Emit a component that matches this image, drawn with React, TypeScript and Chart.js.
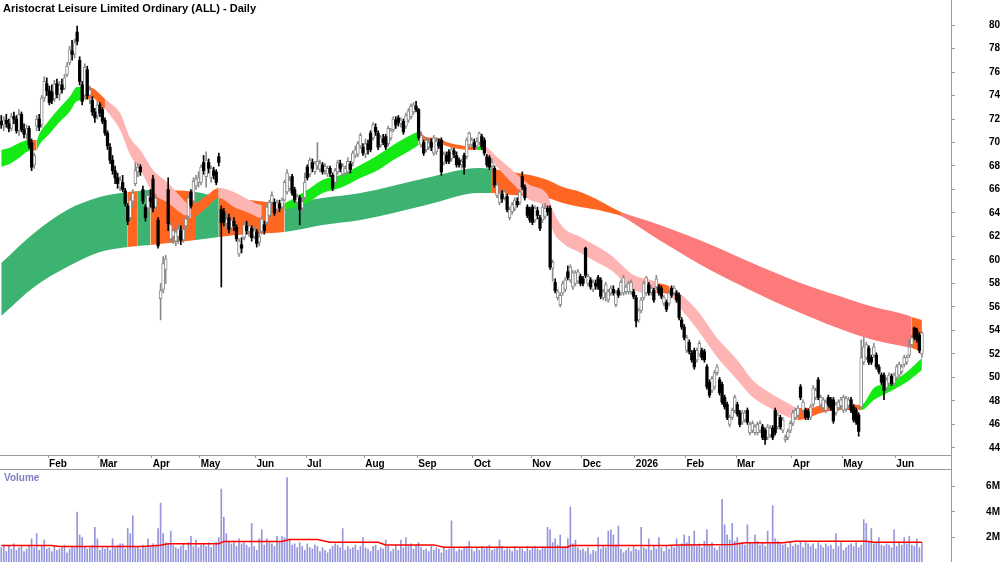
import React, { useEffect, useRef } from "react";
import { Chart, registerables } from "chart.js";

Chart.register(...registerables);

const FONT = '"Liberation Sans", Arial, Helvetica, sans-serif';
const TITLE = "Aristocrat Leisure Limited Ordinary (ALL) - Daily";

// x axis: trading-day index; month ticks at first trading day of month
const monthTickIdx = [19, 39, 60, 79, 101, 121, 144, 165, 187, 210, 230, 251, 271, 291, 313, 333, 354];
const monthLabels = ["Feb", "Mar", "Apr", "May", "Jun", "Jul", "Aug", "Sep", "Oct", "Nov", "Dec", "2026", "Feb", "Mar", "Apr", "May", "Jun"];
const priceTicks = [44, 46, 48, 50, 52, 54, 56, 58, 60, 62, 64, 66, 68, 70, 72, 74, 76, 78, 80];
const volumeTicks = [2, 4, 6];

const opens = [
  71.8,71.5,71.9,71.6,71.2,72.2,72.0,71.0,72.4,71.1,
  70.7,71.2,70.0,68.1,71.4,72.0,71.5,73.8,75.0,74.4,
  74.3,73.7,75.0,74.1,74.9,74.6,75.8,76.8,77.8,77.5,
  79.4,77.0,74.9,74.0,76.2,74.0,73.6,72.6,72.3,73.2,
  72.8,71.9,70.8,69.6,68.5,67.6,67.0,66.2,66.6,65.9,
  64.6,63.6,65.0,66.5,67.5,67.9,66.0,64.5,64.4,65.3,
  66.9,64.5,63.4,56.7,57.5,59.2,66.0,61.8,62.0,61.6,
  62.0,62.5,61.7,62.9,63.7,65.8,65.0,66.3,66.6,66.6,
  68.3,67.1,68.3,67.0,67.6,67.5,68.8,64.3,64.1,63.1,
  63.6,62.7,63.3,62.8,60.5,61.3,61.9,62.9,62.4,62.7,
  62.0,62.4,61.5,62.4,63.0,63.2,63.8,64.9,64.9,64.3,
  64.8,64.5,65.1,65.8,66.1,67.1,66.0,64.9,65.3,64.4,
  65.3,67.9,67.3,68.3,67.5,68.0,67.7,68.1,67.6,67.3,
  67.8,67.2,66.6,67.5,68.2,67.3,67.4,67.5,68.2,68.3,
  68.9,69.0,69.7,69.6,69.0,69.9,70.8,70.4,71.3,70.8,
  69.8,70.3,70.5,69.9,70.4,71.1,71.9,72.1,71.6,71.8,
  71.4,71.9,72.2,72.6,73.1,72.8,69.8,70.0,69.4,69.6,
  70.0,69.1,69.2,70.0,70.2,68.3,68.9,69.2,68.6,69.3,
  68.9,68.5,68.1,68.9,68.8,69.8,69.8,70.0,69.7,70.0,
  70.5,70.2,68.8,68.7,68.0,67.8,65.5,64.9,65.6,65.3,
  65.4,63.6,64.1,64.4,65.0,64.9,67.1,66.2,64.5,64.3,
  64.5,63.4,64.2,63.6,63.4,63.7,64.4,64.4,59.3,58.1,
  56.8,56.2,57.2,57.5,59.0,58.3,57.7,58.0,58.2,58.6,
  58.4,61.0,58.0,58.3,57.5,58.0,58.5,58.3,56.8,57.2,
  56.6,57.2,57.5,56.2,57.4,57.2,57.2,57.3,57.3,57.3,
  57.3,56.8,54.9,55.7,56.8,57.2,57.9,57.2,57.4,57.7,
  57.7,57.6,56.3,56.4,56.3,57.6,57.2,57.2,57.0,54.9,
  54.3,52.3,53.0,52.1,52.3,51.5,52.0,52.3,52.2,50.9,
  49.6,48.9,49.2,50.4,49.8,49.4,48.3,47.7,46.0,46.6,
  47.2,47.7,47.0,46.2,46.4,47.2,45.3,45.5,45.3,45.3,
  45.5,45.8,45.5,44.9,45.1,45.7,47.2,45.8,46.6,45.5,
  44.7,44.9,45.5,46.1,46.6,46.8,49.2,47.2,47.2,47.1,
  46.6,47.7,48.3,49.8,47.7,47.4,47.2,48.3,48.1,48.1,
  47.0,47.4,47.6,47.2,47.3,47.6,48.1,47.5,47.2,46.8,
  47.5,51.3,51.7,52.5,51.7,51.9,51.9,50.9,50.2,50.2,
  49.1,49.5,50.1,49.5,50.0,50.2,50.5,51.1,51.3,51.9,
  52.8,54.2,54.0,53.6,52.0,
];
const highs = [
  72.3,72.2,72.4,72.0,72.5,72.6,72.3,72.8,72.6,71.6,
  71.5,71.4,70.3,69.1,72.3,72.4,74.0,75.6,75.5,74.8,
  74.9,75.3,75.4,75.2,75.4,75.8,76.8,78.2,78.7,78.8,
  79.9,77.3,75.2,76.7,76.5,74.8,73.9,72.9,73.5,73.4,
  73.0,72.1,71.0,69.9,68.9,68.0,67.4,67.1,67.2,66.1,
  64.8,65.4,66.0,68.3,68.2,68.1,66.3,64.7,65.8,66.0,
  67.2,65.6,63.6,58.0,60.3,60.4,67.0,63.2,62.8,62.7,
  63.0,62.9,62.9,63.8,65.6,66.0,67.0,67.2,67.5,68.1,
  68.9,69.2,68.6,68.0,67.9,67.7,69.1,64.6,64.4,63.9,
  63.9,63.7,63.6,63.0,61.8,61.9,63.2,63.3,63.1,62.9,
  62.8,62.6,62.3,63.7,63.3,64.7,65.1,65.8,65.2,65.1,
  65.1,65.3,66.8,67.7,67.1,67.3,66.2,65.6,65.5,65.3,
  67.4,68.1,68.7,68.6,68.4,70.0,68.5,68.3,68.2,68.0,
  68.0,67.4,67.8,68.5,68.5,68.2,68.0,68.7,68.4,69.3,
  69.7,70.1,70.8,69.9,70.3,70.2,71.0,71.7,71.6,71.0,
  70.6,70.7,70.7,71.4,71.2,72.2,72.2,72.3,72.1,72.0,
  72.5,72.9,73.3,73.4,73.5,72.9,70.9,70.2,70.4,70.3,
  70.3,70.6,70.4,70.3,70.4,69.2,69.2,69.4,69.6,69.5,
  69.2,68.7,68.6,69.1,70.4,70.9,70.4,70.3,70.4,70.9,
  70.7,70.4,69.0,68.9,68.6,68.0,66.6,65.9,65.9,66.0,
  65.6,64.5,64.9,65.3,65.3,66.0,67.5,66.4,64.7,64.5,
  64.7,64.6,64.5,63.8,64.7,64.8,64.6,64.6,60.0,58.4,
  57.5,57.2,58.2,58.5,59.5,59.6,59.1,59.1,59.2,58.8,
  58.6,61.1,58.8,58.5,58.3,58.3,58.7,58.5,57.5,58.1,
  57.5,57.8,57.8,57.4,57.6,58.3,58.7,57.9,58.2,58.3,
  57.5,57.0,55.9,56.8,58.2,58.6,58.1,57.8,57.6,58.7,
  57.9,57.8,57.0,56.6,57.4,57.8,57.8,57.4,57.2,55.1,
  54.5,53.6,53.2,52.3,52.5,52.5,53.1,52.5,52.4,51.1,
  49.8,50.1,50.6,51.1,50.0,49.6,48.5,47.9,46.8,47.4,
  48.5,47.9,47.2,47.2,47.2,47.4,46.2,46.3,46.0,46.2,
  46.3,46.0,45.7,46.0,45.9,45.9,47.4,47.0,46.8,46.6,
  45.1,45.6,46.3,47.2,47.4,47.6,49.4,48.1,47.4,47.3,
  47.7,49.3,49.1,50.0,48.5,48.3,48.1,48.5,48.3,48.3,
  47.9,48.1,48.3,48.5,48.4,48.3,48.3,47.7,47.4,47.0,
  53.2,53.4,53.0,52.7,51.9,52.9,52.1,51.1,50.4,50.4,
  50.0,50.4,50.3,50.4,51.1,51.3,51.1,51.9,51.9,53.2,
  53.6,54.3,54.2,53.8,53.9,
];
const lows = [
  71.2,71.0,71.3,70.9,71.0,71.6,70.8,70.6,70.9,70.4,
  70.3,69.5,67.6,67.8,71.0,71.0,71.3,73.5,74.0,73.2,
  73.3,73.5,73.8,73.6,74.2,74.5,75.6,76.6,77.0,77.2,
  78.3,74.9,73.2,73.8,73.7,73.3,72.3,71.7,72.0,72.2,
  71.6,70.6,69.4,68.2,67.3,66.5,66.1,65.9,65.8,64.6,
  63.0,63.4,64.5,66.3,67.1,67.2,64.8,63.3,64.2,64.5,
  64.1,64.2,61.0,54.9,57.2,58.0,62.5,61.5,61.4,61.2,
  61.4,61.3,61.5,62.6,63.5,64.4,64.8,66.0,66.2,66.4,
  67.3,66.2,67.4,66.6,66.9,66.4,68.0,57.7,62.9,62.6,
  62.3,62.4,62.5,61.6,60.3,60.6,61.7,62.2,62.0,61.6,
  61.8,61.1,61.2,62.2,62.2,63.0,63.6,64.7,63.8,64.0,
  64.1,64.3,65.0,65.6,65.9,65.5,64.9,64.7,63.0,64.1,
  65.1,66.8,67.1,67.5,67.3,67.7,67.5,67.3,67.3,67.1,
  67.1,65.9,66.4,67.3,67.5,67.1,67.2,67.3,67.4,68.0,
  68.7,68.8,69.5,68.9,68.7,69.0,69.2,70.2,70.6,69.4,
  69.6,69.8,69.4,69.7,70.2,70.9,71.2,71.4,71.3,70.7,
  71.2,71.7,72.0,72.4,72.6,70.2,69.6,68.9,69.2,69.4,
  69.3,68.9,69.0,69.5,67.2,68.1,68.2,68.2,68.4,68.7,
  67.9,67.9,67.8,67.3,68.6,69.6,69.6,69.4,69.5,69.8,
  69.4,68.9,67.9,67.7,67.6,66.2,65.3,64.7,64.9,65.1,
  64.1,63.4,63.9,64.2,64.5,64.7,66.0,65.1,63.6,63.2,
  63.0,63.2,63.5,62.5,63.2,63.5,63.8,59.2,58.2,57.2,
  56.6,56.0,57.0,57.3,58.3,58.1,57.5,57.8,58.0,57.8,
  57.8,58.5,57.8,57.5,57.3,57.5,57.5,56.7,56.6,56.5,
  56.4,57.0,57.0,56.0,56.8,57.0,57.0,57.1,57.1,57.1,
  56.7,54.3,54.7,55.5,56.6,57.0,57.0,57.0,56.4,57.5,
  57.0,56.7,56.1,55.6,56.1,56.8,57.0,56.4,54.9,54.1,
  53.2,52.1,52.0,51.3,50.7,51.3,51.8,51.5,51.3,49.0,
  48.3,48.7,49.0,50.2,48.5,47.7,47.3,46.4,45.8,46.4,
  47.0,46.7,45.8,46.0,46.2,46.0,45.1,45.3,45.1,45.1,
  45.3,44.7,44.3,44.7,44.9,44.7,45.1,45.6,45.6,45.3,
  44.5,44.7,45.3,45.9,46.4,46.6,48.1,47.0,46.4,46.4,
  46.4,47.5,48.1,48.1,47.5,47.2,47.0,47.5,47.2,46.1,
  46.8,47.2,47.4,47.0,47.1,47.4,47.0,46.2,46.0,45.0,
  47.3,51.1,51.5,51.1,51.1,51.7,50.7,50.3,49.4,48.1,
  48.9,49.3,49.3,49.3,49.8,50.0,50.3,50.9,51.1,51.7,
  52.6,53.2,53.0,52.1,51.7,
];
const closes = [
  71.5,71.9,71.6,71.2,72.2,72.0,71.0,72.4,71.1,70.7,
  71.2,69.8,67.9,68.9,72.0,71.3,73.8,75.2,74.4,73.4,
  73.6,75.0,74.1,74.9,74.5,75.5,76.5,77.9,77.5,78.5,
  78.6,75.2,73.5,76.4,74.0,74.5,72.6,72.1,73.2,72.5,
  71.8,70.8,69.7,68.5,67.6,67.0,66.5,66.8,66.0,64.8,
  63.3,65.1,65.7,67.6,67.9,67.5,65.0,63.6,65.5,65.0,
  64.4,65.3,61.2,57.4,59.7,60.1,63.1,63.0,62.5,62.4,
  62.6,61.7,62.6,63.5,65.3,64.6,66.7,66.9,67.0,67.9,
  67.6,68.5,67.8,67.8,67.2,66.6,68.3,63.2,63.2,63.5,
  62.6,63.4,62.9,61.8,61.6,61.0,63.0,62.5,62.9,61.9,
  62.5,61.4,62.0,63.5,62.5,64.5,64.9,65.5,64.0,64.9,
  64.4,65.1,66.6,67.4,66.8,65.7,65.1,65.4,64.3,65.0,
  66.6,67.0,68.5,67.8,68.2,68.4,68.2,67.5,68.0,67.8,
  67.4,66.1,67.6,68.3,67.8,68.0,67.8,68.4,67.7,69.1,
  69.4,69.9,70.6,69.1,69.9,69.4,69.4,71.5,70.9,69.6,
  70.4,70.0,69.6,71.2,71.0,72.0,71.5,71.7,71.9,70.9,
  72.3,72.7,73.1,73.2,72.8,70.4,70.6,69.1,70.2,70.0,
  69.6,70.4,70.1,69.7,67.5,69.0,68.4,68.4,69.4,69.0,
  68.1,68.1,68.4,67.9,70.2,70.8,70.2,69.6,70.1,70.8,
  69.6,69.1,68.1,67.9,68.3,66.4,66.4,65.7,65.2,65.8,
  64.3,64.3,64.7,65.1,64.7,65.8,66.2,65.3,63.8,63.4,
  63.2,64.4,63.8,62.7,64.5,64.4,64.1,59.4,59.8,57.4,
  57.3,57.0,58.0,58.3,58.5,59.4,58.9,58.9,59.0,58.0,
  58.0,58.7,58.6,57.7,58.1,57.8,57.7,56.9,57.3,57.9,
  57.3,57.6,57.2,57.2,57.0,58.1,58.5,57.7,58.0,58.1,
  56.9,54.8,55.7,56.6,58.0,58.5,57.2,57.6,56.6,58.4,
  57.2,56.9,56.8,55.8,57.2,57.0,57.6,56.6,55.1,54.3,
  53.4,53.4,52.2,51.5,50.9,52.3,52.9,51.7,51.5,49.2,
  48.5,49.9,50.4,50.9,48.7,47.9,47.5,46.6,46.6,47.2,
  48.3,46.9,46.0,47.0,47.0,46.2,46.0,46.1,45.8,46.0,
  46.1,44.9,44.7,45.8,45.7,44.9,45.3,46.8,45.8,46.4,
  44.9,45.4,46.1,47.0,47.2,47.4,48.3,47.9,46.6,46.6,
  47.5,49.1,48.9,48.3,48.3,48.1,47.9,47.7,47.4,46.3,
  47.7,47.9,48.1,48.3,48.2,48.1,47.2,46.4,46.2,45.4,
  51.7,52.6,52.8,51.3,51.3,52.6,50.9,50.5,49.6,48.9,
  49.8,50.2,49.5,50.2,50.9,51.1,50.9,51.7,51.7,52.6,
  53.4,53.4,53.2,52.3,53.8,
];

// volume in millions of shares
const volumes = [
  1.2,1.4,0.9,1.3,1.1,1.5,1.0,1.2,1.3,0.9,
  1.1,1.4,1.9,1.2,2.3,1.0,1.3,1.8,1.1,1.2,
  0.9,1.3,1.0,1.1,1.2,1.4,0.8,1.1,1.3,1.2,
  4.0,2.2,2.0,1.3,1.1,1.2,1.4,2.8,1.9,1.0,
  1.2,1.1,1.3,1.0,1.9,1.2,1.4,1.5,1.5,1.1,
  2.7,2.3,3.7,1.2,1.3,1.1,1.4,1.2,1.9,1.3,
  1.5,1.4,2.7,4.7,2.3,1.6,1.5,2.5,1.4,1.2,
  1.1,1.3,1.5,1.0,1.6,2.1,1.3,1.8,1.2,1.4,
  1.5,1.3,1.6,1.2,1.4,1.6,2.0,5.8,3.6,2.3,
  1.7,1.5,1.6,1.3,1.9,1.5,1.6,1.4,1.2,3.1,
  1.3,1.0,1.9,2.6,1.4,1.9,1.6,1.5,1.3,2.1,
  1.7,2.1,2.0,6.7,1.9,1.4,1.5,1.2,1.6,1.3,
  1.0,1.5,1.2,1.1,1.4,1.3,0.9,1.2,1.0,0.8,
  1.1,1.3,1.5,1.4,1.2,2.7,1.0,1.3,1.1,1.2,
  1.4,1.0,1.3,2.0,1.2,1.1,0.9,1.3,1.4,1.0,
  1.2,1.1,1.8,1.3,0.9,1.1,1.4,1.0,1.8,1.2,
  2.0,1.3,1.5,1.1,1.4,1.6,1.2,1.0,1.1,0.9,
  1.3,1.0,1.2,1.1,0.8,1.2,1.0,1.1,3.3,1.2,
  0.9,1.1,1.0,1.2,1.3,1.7,1.1,0.9,1.2,1.0,
  1.3,1.1,1.2,1.4,1.0,1.1,1.2,1.8,1.3,1.0,
  1.2,1.1,0.9,1.3,1.0,1.2,1.1,0.9,1.3,1.0,
  1.2,1.3,1.1,1.0,1.3,1.2,2.8,2.6,1.6,1.9,
  1.4,2.2,1.2,1.3,1.9,4.4,1.5,1.8,1.2,1.0,
  1.1,0.9,1.2,0.7,1.0,0.9,2.0,1.1,1.3,1.2,
  2.5,2.6,2.2,1.4,2.9,1.1,0.8,1.0,1.2,0.9,
  1.3,1.1,1.0,2.8,1.2,1.1,1.9,1.0,1.3,1.1,
  2.0,1.2,0.9,1.3,1.1,1.4,1.2,1.9,1.3,1.5,
  2.2,1.6,2.1,1.4,2.5,1.3,1.5,1.2,1.7,2.6,
  1.4,1.6,1.2,1.0,1.3,5.0,3.0,2.2,1.8,3.1,
  1.7,2.0,1.5,1.6,1.4,3.0,1.6,1.5,2.2,1.7,
  1.4,1.6,1.3,2.5,1.5,4.5,1.9,1.7,1.6,1.4,
  1.5,1.2,1.6,1.3,1.5,1.4,1.7,1.2,1.6,1.5,
  1.3,1.5,1.1,1.6,1.4,1.2,1.5,1.3,1.4,1.1,
  2.3,1.3,1.6,1.0,1.2,1.4,1.5,1.3,1.6,1.2,
  1.4,3.4,3.1,1.6,2.7,1.5,1.6,2.0,1.4,1.3,
  1.5,1.4,1.2,2.6,1.3,1.6,1.4,2.0,1.5,2.1,
  1.4,1.3,1.9,1.2,1.6,
];

// volume moving average (millions), read at these day indices
const volAvgIdx = [0,20,23,56,63,66,86,88,111,114,125,130,149,152,171,175,224,225,263,268,289,294,309,314,342,345,364];
const volAvg = [1.37,1.37,1.30,1.30,1.40,1.50,1.50,1.69,1.69,1.84,1.84,1.63,1.63,1.42,1.42,1.24,1.24,1.37,1.37,1.42,1.45,1.58,1.58,1.71,1.71,1.63,1.63];

// short-term moving-average band: day index, upper, lower, colour code of following segment
const shortIdx = [0,4,7,11,14,15,19,23,27,30,33,36,39,41,43,47,51,55,60,66,71,75,81,86,92,98,103,108,112,121,127,134,142,149,155,162,165,168,173,176,181,188,190,196,202,209,216,218,222,229,236,241,250,257,260,264,270,276,283,291,297,304,311,315,320,324,332,340,345,351,358,364];
const shortTop = [69.36,69.62,69.96,70.21,70.21,70.72,71.91,72.94,73.87,74.72,74.72,74.64,74.13,73.70,73.36,72.51,70.38,69.36,67.66,66.55,65.36,64.68,65.45,66.13,65.79,65.11,64.68,64.68,64.85,65.96,66.81,67.23,68.09,68.94,69.79,70.64,70.89,70.47,70.38,70.04,69.79,69.62,69.79,68.77,67.66,66.38,65.53,64.26,62.81,61.96,61.11,60.43,58.72,58.30,58.04,57.79,56.85,55.49,53.36,51.49,49.79,48.68,47.83,47.40,47.40,47.66,47.74,47.66,49.11,49.53,50.47,51.66];
const shortBot = [67.92,68.26,68.68,69.28,69.36,69.79,70.72,71.74,72.60,73.53,73.62,73.79,73.28,72.85,72.34,71.06,68.94,67.66,65.70,64.85,64.00,63.57,64.43,65.28,64.51,64.00,63.57,63.83,64.26,64.85,65.70,66.13,66.98,67.66,68.51,69.36,69.79,70.04,69.96,69.70,69.45,69.36,69.36,67.92,66.55,65.11,64.26,62.55,61.45,60.60,59.74,59.15,57.45,57.19,57.19,57.02,55.49,53.87,51.74,49.79,48.34,47.40,46.64,46.38,46.64,46.98,47.23,47.23,48.09,48.77,49.62,50.64];
const shortCol = "gggogggggg" + "oooppppppp" + "poopppoogg" + "ggggggoooo" + "ogpppppppp" + "ppppoppppp" + "pppooooggggg";

// long-term moving-average band
const longIdx = [0,13,26,39,50,54,59,77,86,98,112,127,142,168,189,194,202,209,216,222,229,236,241,245,257,276,296,316,336,345,358,360,364];
const longTop = [59.74,62.30,64.26,65.36,65.79,65.87,65.96,65.79,65.36,65.11,64.85,65.28,65.70,66.98,67.83,67.75,67.49,67.23,66.81,66.21,65.79,65.11,64.51,64.09,63.23,61.70,59.83,58.04,56.60,56.00,55.32,55.15,54.89];
const longBot = [55.23,57.70,59.40,60.68,61.11,61.19,61.28,61.70,61.96,62.21,62.38,62.98,63.40,64.68,65.70,65.70,65.53,65.45,65.28,64.85,64.51,64.26,64.00,63.74,62.13,59.66,57.45,55.49,53.79,53.19,52.60,52.51,52.17];
const longCol = "ggggogogoogggggoooooooorrrrrrrroo";

const SHORT_COLORS: Record<string, string> = { g: "#14ea14", o: "#ff6622", p: "#ffb4b4" };
const LONG_COLORS: Record<string, string> = { g: "#3cb371", o: "#ff6622", r: "#fd7a7a" };

const X_MIN = 0;
const X_MAX = 376;
const AXIS_W = 49;
const AXIS_COLOR = "#9a9a9a";

function bandDatasets(idx: number[], top: number[], bot: number[], cols: string, colorMap: Record<string, string>, order: number) {
  return [
    {
      type: "line",
      data: idx.map((x, k) => ({ x: x + 0.5, y: top[k] })),
      borderColor: "transparent",
      borderWidth: 0,
      pointRadius: 0,
      fill: "+1",
      cubicInterpolationMode: "monotone",
      backgroundColor: colorMap[cols[0]],
      segment: { backgroundColor: (c: any) => colorMap[cols[c.p0DataIndex]] },
      order,
    },
    {
      type: "line",
      data: idx.map((x, k) => ({ x: x + 0.5, y: bot[k] })),
      borderColor: "transparent",
      borderWidth: 0,
      pointRadius: 0,
      fill: false,
      cubicInterpolationMode: "monotone",
      order,
    },
  ];
}

export default function App() {
  const priceRef = useRef<HTMLCanvasElement>(null);
  const volRef = useRef<HTMLCanvasElement>(null);

  useEffect(() => {
    const days = closes.map((_, i) => i);
    const isUp = (i: number) => closes[i] >= opens[i];
    const tickFont = { family: FONT, size: 10, weight: "bold" as const };

    const extendAxis = {
      id: "extendAxis",
      afterDraw(chart: any) {
        const { ctx, chartArea } = chart;
        const x = Math.round(chartArea.right) + 0.5;
        ctx.save();
        ctx.strokeStyle = AXIS_COLOR;
        ctx.lineWidth = 1;
        ctx.beginPath();
        ctx.moveTo(x, chartArea.bottom);
        ctx.lineTo(x, chart.height);
        ctx.stroke();
        ctx.restore();
      },
    };

    const zeroPad = (s: any) => {
      s.paddingTop = 0;
      s.paddingBottom = 0;
      s.paddingLeft = 0;
      s.paddingRight = 0;
    };

    const price = new Chart(priceRef.current as HTMLCanvasElement, {
      type: "bar",
      data: {
        datasets: [
          ...bandDatasets(longIdx, longTop, longBot, longCol, LONG_COLORS, 5),
          ...bandDatasets(shortIdx, shortTop, shortBot, shortCol, SHORT_COLORS, 4),
          {
            type: "bar",
            data: days.map((i) => ({ x: i + 0.5, y: [lows[i], highs[i]] })),
            backgroundColor: (c: any) => (isUp(c.dataIndex) ? "#8a8a8a" : "#000000"),
            barThickness: 1,
            grouped: false,
            order: 3,
          },
          {
            type: "bar",
            data: days.filter((i) => isUp(i)).map((i) => ({ x: i + 0.5, y: [opens[i], closes[i]] })),
            backgroundColor: "#ffffff",
            borderColor: "#8a8a8a",
            borderWidth: 1,
            borderSkipped: false,
            barThickness: 3,
            minBarLength: 2,
            grouped: false,
            order: 2,
          },
          {
            type: "bar",
            data: days.filter((i) => !isUp(i)).map((i) => ({ x: i + 0.5, y: [opens[i], closes[i]] })),
            backgroundColor: "#000000",
            borderWidth: 0,
            barThickness: 2.6,
            minBarLength: 1,
            grouped: false,
            order: 1,
          },
        ] as any,
      },
      options: {
        animation: false,
        responsive: false,
        maintainAspectRatio: false,
        devicePixelRatio: 1,
        events: [],
        layout: { padding: 0 },
        plugins: { legend: { display: false }, tooltip: { enabled: false }, title: { display: false } },
        scales: {
          x: {
            type: "linear",
            min: X_MIN,
            max: X_MAX,
            offset: false,
            grid: { display: true, drawOnChartArea: false, drawTicks: true, tickLength: 3, color: AXIS_COLOR, offset: false },
            border: { display: true, color: AXIS_COLOR },
            ticks: {
              autoSkip: false,
              maxRotation: 0,
              minRotation: 0,
              align: "start",
              padding: 0,
              labelOffset: 1,
              color: "#000000",
              font: tickFont,
              callback: (_v: any, i: number) => monthLabels[i],
            },
            afterBuildTicks: (s: any) => {
              s.ticks = monthTickIdx.map((v) => ({ value: v }));
            },
            afterFit: (s: any) => {
              s.height = 14;
              zeroPad(s);
            },
          },
          y: {
            type: "linear",
            position: "right",
            min: 43.4,
            max: 82.13,
            grid: { drawOnChartArea: false, drawTicks: true, tickLength: 4, color: AXIS_COLOR },
            border: { display: true, color: AXIS_COLOR },
            ticks: { crossAlign: "far", padding: 32, color: "#000000", font: tickFont, callback: (v: any) => String(v) },
            afterBuildTicks: (s: any) => {
              s.ticks = priceTicks.map((v) => ({ value: v }));
            },
            afterFit: (s: any) => {
              s.width = AXIS_W;
              zeroPad(s);
            },
          },
        },
      } as any,
      plugins: [extendAxis],
    });

    const vol = new Chart(volRef.current as HTMLCanvasElement, {
      type: "bar",
      data: {
        datasets: [
          {
            type: "line",
            data: volAvgIdx.map((x, k) => ({ x: x + 0.5, y: volAvg[k] })),
            borderColor: "#ff0000",
            borderWidth: 1.5,
            pointRadius: 0,
            fill: false,
            order: 1,
          },
          {
            type: "bar",
            data: days.map((i) => ({ x: i + 0.5, y: volumes[i] })),
            backgroundColor: "#9696dc",
            barThickness: 1,
            grouped: false,
            order: 2,
          },
        ] as any,
      },
      options: {
        animation: false,
        responsive: false,
        maintainAspectRatio: false,
        devicePixelRatio: 1,
        events: [],
        layout: { padding: 0 },
        plugins: { legend: { display: false }, tooltip: { enabled: false }, title: { display: false } },
        scales: {
          x: {
            type: "linear",
            position: "top",
            min: X_MIN,
            max: X_MAX,
            offset: false,
            grid: { display: false },
            border: { display: true, color: AXIS_COLOR },
            ticks: { display: false },
            afterFit: (s: any) => {
              s.height = 0;
              zeroPad(s);
            },
          },
          y: {
            type: "linear",
            position: "right",
            min: 0,
            max: 7.37,
            grid: { drawOnChartArea: false, drawTicks: true, tickLength: 4, color: AXIS_COLOR },
            border: { display: true, color: AXIS_COLOR },
            ticks: { crossAlign: "far", padding: 29, color: "#000000", font: tickFont, callback: (v: any) => `${v}M` },
            afterBuildTicks: (s: any) => {
              s.ticks = volumeTicks.map((v) => ({ value: v }));
            },
            afterFit: (s: any) => {
              s.width = AXIS_W;
              zeroPad(s);
            },
          },
        },
      } as any,
    });

    return () => {
      price.destroy();
      vol.destroy();
    };
  }, []);

  return (
    <div style={{ position: "absolute", left: 0, top: 0, width: 1000, height: 562, background: "#ffffff", overflow: "hidden" }}>
      <canvas ref={priceRef} width={1000} height={469} style={{ position: "absolute", left: 0, top: 0, display: "block" }} />
      <canvas ref={volRef} width={1000} height={94} style={{ position: "absolute", left: 0, top: 469, display: "block" }} />
      <div
        style={{
          position: "absolute",
          left: 3,
          top: 3,
          font: `bold 11px ${FONT}`,
          lineHeight: "11px",
          color: "#000000",
          whiteSpace: "nowrap",
        }}
      >
        {TITLE}
      </div>
      <div
        style={{
          position: "absolute",
          left: 4,
          top: 473,
          font: `bold 10px ${FONT}`,
          lineHeight: "10px",
          color: "#8080c0",
          whiteSpace: "nowrap",
        }}
      >
        Volume
      </div>
    </div>
  );
}
